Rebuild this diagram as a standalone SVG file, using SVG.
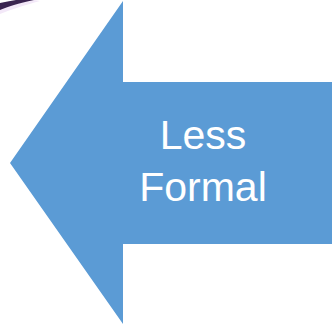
<svg xmlns="http://www.w3.org/2000/svg" width="332" height="324" viewBox="0 0 332 324">
<style>
.lbl{font-family:"Liberation Sans",Arial,sans-serif;font-size:41px;fill:#ffffff;text-anchor:middle}
</style>
<rect width="332" height="324" fill="#ffffff"/>
<path d="M0,14 C10,10 25,5 40,1 L34,0 C18,2 8,5 0,8 Z" fill="#f3e8f8"/>
<path d="M0,10 C8,7 18,3 34,0 L16,0 C10,1 5,2 0,3 Z" fill="#3a2450"/>
<g id="arrow">
<polygon points="10,163 123,1 123,82 332,82 332,244 123,244 123,324" fill="#5B9BD5"/>
<text class="lbl" x="203" y="149">Less</text>
<text class="lbl" x="203" y="201">Formal</text>
</g>
</svg>
